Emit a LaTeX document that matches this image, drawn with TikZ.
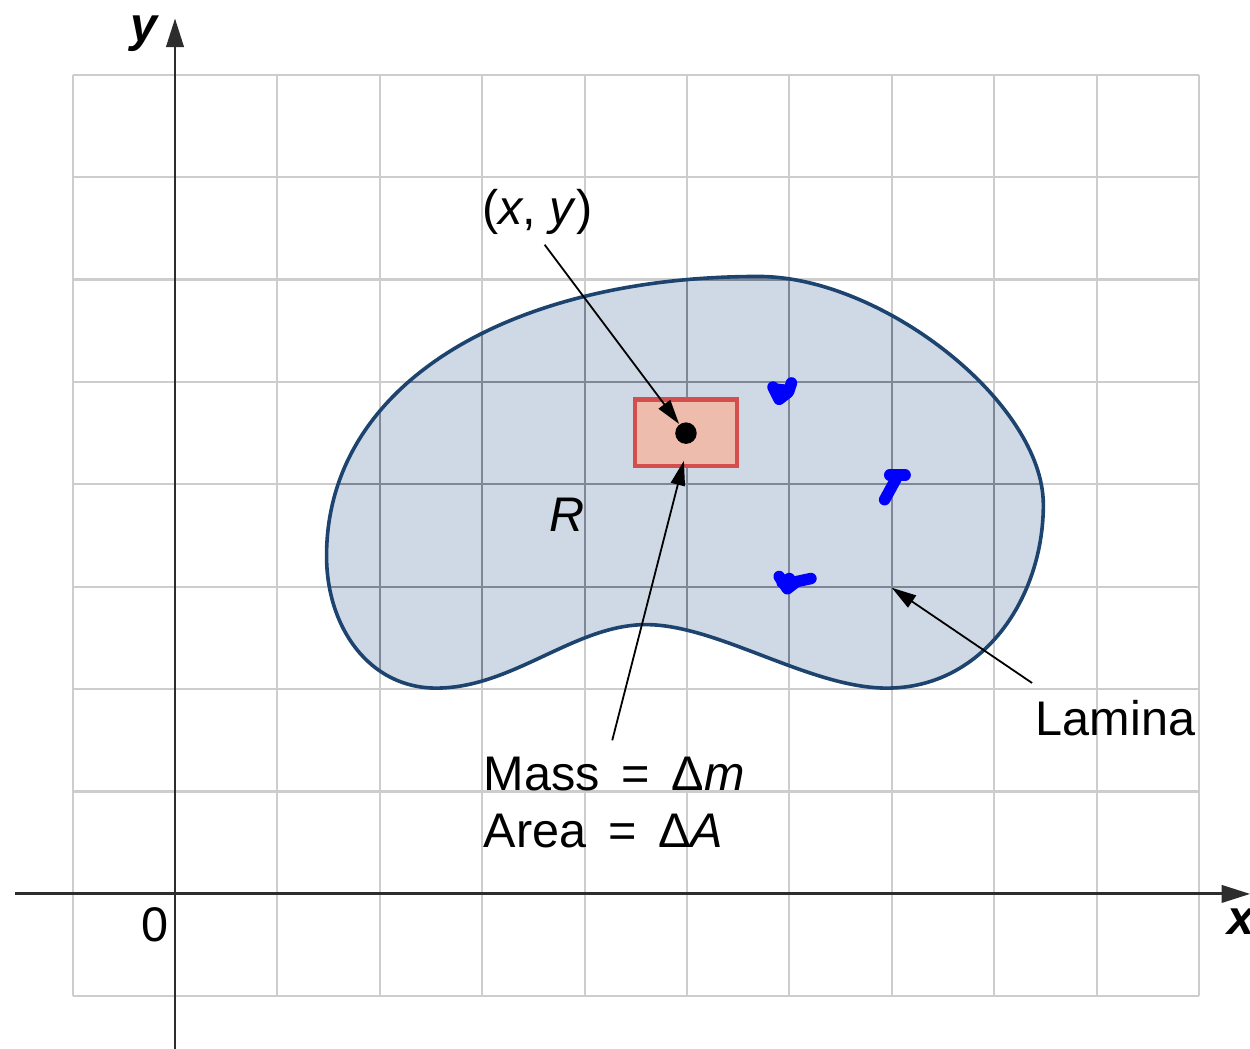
\documentclass[tikz,border=0pt]{standalone}
\usepackage{fontspec}
\setmainfont{Liberation Sans}
\usetikzlibrary{arrows.meta}
\definecolor{gridc}{RGB}{205,205,205}
\definecolor{gridin}{RGB}{125,135,150}
\definecolor{blobfill}{RGB}{207,217,229}
\definecolor{blobline}{RGB}{28,68,110}
\definecolor{rectfill}{RGB}{238,188,172}
\definecolor{rectline}{RGB}{212,78,78}
\definecolor{axisc}{RGB}{45,45,45}
\newcommand\blobshape{(1.48,3.30) .. controls (1.48,5.0) and (3.3,6.03) .. (5.7,6.03)
 .. controls (6.9,6.03) and (8.48,4.8) .. (8.48,3.8)
 .. controls (8.48,2.9) and (7.9,2.01) .. (6.95,2.01)
 .. controls (6.2,2.01) and (5.3,2.63) .. (4.6,2.63)
 .. controls (3.9,2.63) and (3.3,2.01) .. (2.55,2.01)
 .. controls (1.9,2.01) and (1.48,2.6) .. cycle}
\begin{document}
\begin{tikzpicture}[
  every node/.style={font=\fontsize{13.5}{16}\selectfont, inner sep=0pt},
  gridline/.style={gridc, line width=0.6pt},
  gridinner/.style={gridin, line width=0.6pt},
  axisline/.style={axisc, line width=0.8pt, -{Triangle[length=2.8mm,width=1.7mm]}},
  pointer/.style={black, line width=0.5pt, -{Triangle[length=2.4mm,width=1.4mm]}},
  scribble/.style={blue, line width=3.2pt, line cap=round, line join=round},
]
\useasboundingbox (-1.709,-1.514) rectangle (10.498,8.730);
% grid
\draw[gridline] (-1,-1) grid (10,8);
% lamina
\fill[blobfill] \blobshape;
\begin{scope}
  \clip \blobshape;
  \draw[gridinner] (-1,-1) grid (10,8);
\end{scope}
\draw[blobline, line width=1pt] \blobshape;
% blue scribbles
\draw[scribble] (5.84,4.95) -- (5.90,4.83) -- (5.99,4.90) -- (6.02,4.99);
\draw[scribble] (5.86,4.93) -- (5.95,4.92);
\draw[scribble] (6.93,3.85) -- (7.04,4.05);
\draw[scribble] (6.98,4.09) -- (7.13,4.09);
\draw[scribble] (5.90,3.10) -- (5.98,2.98) -- (6.07,3.05) -- (6.21,3.08);
\draw[scribble] (5.93,3.04) -- (6.00,3.08);
% axes
\coordinate (xs) at (-1.56,0);
\coordinate (xe) at (10.50,0);
\coordinate (ys) at (0,-1.52);
\coordinate (ye) at (0,8.55);
\draw[axisline] (xs) -- (xe);
\draw[axisline] (ys) -- (ye);
\node (ylab) at (-0.29,8.40) {\textbf{\textit{y}}};
\node (xlab) at (10.42,-0.27) {\textbf{\textit{x}}};
\node (zero) at (-0.20,-0.30) {0};
% element
\node (dA) [draw=rectline, line width=1.2pt, fill=rectfill, minimum width=1.0cm, minimum height=0.65cm] at (4.99,4.505) {};
\node (pt) [circle, fill=black, minimum size=0.21cm] at (4.99,4.50) {};
% labels
\node (lxy) at (3.54,6.66) {(\textit{x}, \textit{y})};
\node (lR) at (3.83,3.70) {\textit{R}};
\node (lmass) [anchor=base west] at (3.01,1.006) {Mass \,=\, Δ\textit{m}};
\node (larea) [anchor=base west] at (3.01,0.45) {Area \,=\, Δ\textit{A}};
\node (llam) [anchor=base west] at (8.40,1.55) {Lamina};
% pointers
\coordinate (p1s) at (3.61,6.34);
\coordinate (p2s) at (4.27,1.50);
\coordinate (p2e) at (4.97,4.23);
\coordinate (p3s) at (8.37,2.06);
\coordinate (p3e) at (7.00,2.99);
\draw[pointer] (p1s) -- (pt);
\draw[pointer] (p2s) -- (p2e);
\draw[pointer] (p3s) -- (p3e);
\end{tikzpicture}
\end{document}
